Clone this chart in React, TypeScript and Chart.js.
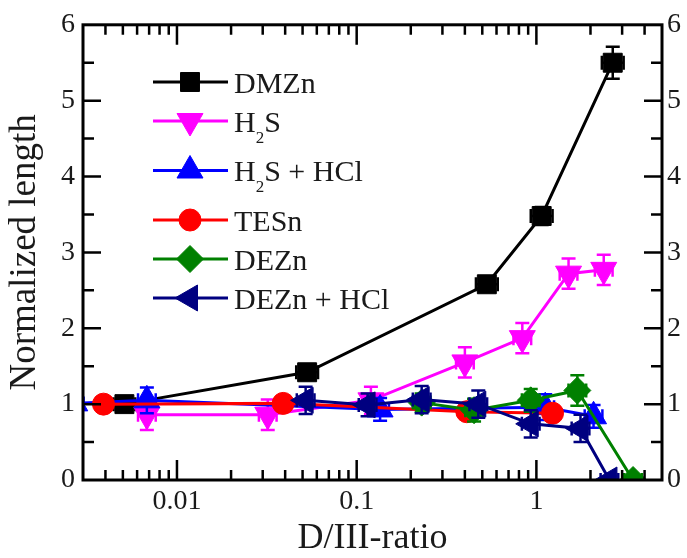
import React, { useEffect, useRef } from 'react';
import { Chart, registerables } from 'chart.js';
import * as helpers from 'chart.js/helpers';

Chart.register(...registerables);

// ---------- data ----------
const X_MIN = 0.003;
const X_MAX = 5;
const Y_MIN = 0;
const Y_MAX = 6;
const X_TICK_LABELS = [0.01, 0.1, 1];
const Y_TICK_LABELS = [0, 1, 2, 3, 4, 5, 6];

const LEGEND_LABELS = ['DMZn', 'H_{2}S', 'H_{2}S + HCl', 'TESn', 'DEZn', 'DEZn + HCl'];

const dmznX = [0.0051, 0.053, 0.53, 1.07, 2.66];
const dmznY = [1.0, 1.42, 2.58, 3.48, 5.5];
const dmznErrY = [0.1, 0.1, 0.1, 0.12, 0.21];
const dmznErrX = [0.15, 0.15, 0.15, 0.15, 0.15];

const h2sX = [0.0068, 0.032, 0.12, 0.4, 0.835, 1.51, 2.37];
const h2sY = [0.86, 0.86, 1.05, 1.55, 1.87, 2.72, 2.77];
const h2sErrY = [0.2, 0.2, 0.18, 0.2, 0.2, 0.2, 0.2];
const h2sErrX = [0.12, 0.12, 0.12, 0.12, 0.12, 0.12, 0.12];

const h2sHclX = [0.0027, 0.0068, 0.135, 1.12, 2.08];
const h2sHclY = [1.01, 1.05, 0.93, 0.96, 0.84];
const h2sHclErrY = [0.17, 0.17, 0.15, 0.17, 0.15];
const h2sHclErrX = [0.12, 0.12, 0.12, 0.12, 0.12];

const tesnX = [0.0039, 0.039, 0.41, 1.23];
const tesnY = [1.0, 1.01, 0.9, 0.88];
const tesnErrY = [0.05, 0.05, 0.06, 0.06];
const tesnErrX = [0.05, 0.05, 0.05, 0.05];

const deznX = [0.23, 0.45, 0.93, 1.69, 3.45];
const deznY = [1.02, 0.92, 1.05, 1.18, 0];
const deznErrY = [0.12, 0.15, 0.15, 0.2, 0.05];
const deznErrX = [0.12, 0.12, 0.12, 0.12, 0.12];

const deznHclX = [0.052, 0.115, 0.23, 0.475, 0.93, 1.76, 2.55];
const deznHclY = [1.05, 0.99, 1.06, 1.0, 0.74, 0.68, 0];
const deznHclErrY = [0.18, 0.15, 0.18, 0.18, 0.18, 0.18, 0.05];
const deznHclErrX = [0.12, 0.12, 0.12, 0.12, 0.12, 0.12, 0.12];

const COLORS = ['#000000', '#ff00ff', '#0000ff', '#ff0000', '#008000', '#000080'];
const POINT_STYLES = ['rect', 'triangle', 'triangle', 'circle', 'rectRot', 'triangle'];
const POINT_ROTATIONS = [0, 180, 0, 0, 0, -90];
const POINT_RADII = [13.4, 15, 15, 11, 13.5, 15];

const SERIES = [
  [dmznX, dmznY, dmznErrY, dmznErrX],
  [h2sX, h2sY, h2sErrY, h2sErrX],
  [h2sHclX, h2sHclY, h2sHclErrY, h2sHclErrX],
  [tesnX, tesnY, tesnErrY, tesnErrX],
  [deznX, deznY, deznErrY, deznErrX],
  [deznHclX, deznHclY, deznHclErrY, deznHclErrX],
];

const FONT = '"Liberation Serif", "Times New Roman", serif';
const TEXT = '#1a1a1a';

// small size offset used to refresh the canvas font cache once fonts are ready
let fontBump = 0;

// ---------- plugins ----------
const errorBarPlugin = {
  id: 'errorBars',
  beforeDatasetDraw(chart: any, args: any) {
    const ds = chart.data.datasets[args.index];
    const { ctx, chartArea: a } = chart;
    const xs = chart.scales.x;
    const ys = chart.scales.y;
    ctx.save();
    ctx.beginPath();
    ctx.rect(a.left, a.top, a.right - a.left, a.bottom - a.top);
    ctx.clip();
    ctx.strokeStyle = ds.borderColor;
    ctx.lineWidth = 2.5;
    const cap = 7;
    ds.data.forEach((p: any, j: number) => {
      const px = xs.getPixelForValue(p.x);
      const py = ys.getPixelForValue(p.y);
      const ey = ds.errY[j];
      const ex = ds.errX[j];
      ctx.beginPath();
      if (ey > 0) {
        const t = ys.getPixelForValue(p.y + ey);
        const b = ys.getPixelForValue(p.y - ey);
        ctx.moveTo(px, t); ctx.lineTo(px, b);
        ctx.moveTo(px - cap, t); ctx.lineTo(px + cap, t);
        ctx.moveTo(px - cap, b); ctx.lineTo(px + cap, b);
      }
      if (ex > 0) {
        const l = xs.getPixelForValue(p.x / (1 + ex));
        const r = xs.getPixelForValue(p.x * (1 + ex));
        ctx.moveTo(l, py); ctx.lineTo(r, py);
        ctx.moveTo(l, py - cap); ctx.lineTo(l, py + cap);
        ctx.moveTo(r, py - cap); ctx.lineTo(r, py + cap);
      }
      ctx.stroke();
    });
    ctx.restore();
  },
};

const framePlugin = {
  id: 'frameTicks',
  afterDatasetsDraw(chart: any) {
    const { ctx, chartArea: a } = chart;
    const xs = chart.scales.x;
    const ys = chart.scales.y;
    ctx.save();
    ctx.strokeStyle = '#000';
    ctx.lineWidth = 3;
    ctx.strokeRect(a.left, a.top, a.right - a.left, a.bottom - a.top);
    ctx.lineWidth = 2.5;
    ctx.beginPath();
    for (let k = 1; k < (Y_MAX - Y_MIN) * 2; k++) {
      const v = Y_MIN + k * 0.5;
      const len = k % 2 === 0 ? 18 : 11;
      const py = ys.getPixelForValue(v);
      ctx.moveTo(a.left, py); ctx.lineTo(a.left + len, py);
      ctx.moveTo(a.right, py); ctx.lineTo(a.right - len, py);
    }
    for (let d = -3; d <= 0; d++) {
      for (let m = 1; m <= 9; m++) {
        const v = m * Math.pow(10, d);
        if (v <= X_MIN * 1.001 || v >= X_MAX * 0.999) continue;
        const len = m === 1 ? 20 : 10;
        const px = xs.getPixelForValue(v);
        ctx.moveTo(px, a.bottom); ctx.lineTo(px, a.bottom - len);
        ctx.moveTo(px, a.top); ctx.lineTo(px, a.top + len);
      }
    }
    ctx.stroke();
    ctx.restore();
  },
};

function parseLabel(s: string) {
  const parts: { t: string; sub: boolean }[] = [];
  const re = /_\{(.*?)\}/g;
  let last = 0;
  let m: RegExpExecArray | null;
  while ((m = re.exec(s))) {
    if (m.index > last) parts.push({ t: s.slice(last, m.index), sub: false });
    parts.push({ t: m[1], sub: true });
    last = m.index + m[0].length;
  }
  if (last < s.length) parts.push({ t: s.slice(last), sub: false });
  return parts;
}

const legendPlugin = {
  id: 'customLegend',
  afterDraw(chart: any) {
    const { ctx } = chart;
    const x0 = 153, x1 = 228, xm = 190, xt = 234;
    let y = 82;
    chart.data.datasets.forEach((ds: any, i: number) => {
      const parts = parseLabel(LEGEND_LABELS[i]);
      ctx.save();
      ctx.strokeStyle = ds.borderColor;
      ctx.lineWidth = 3;
      ctx.beginPath();
      ctx.moveTo(x0, y); ctx.lineTo(x1, y);
      ctx.stroke();
      ctx.fillStyle = ds.pointBackgroundColor;
      ctx.strokeStyle = ds.pointBorderColor;
      ctx.lineWidth = 1;
      helpers.drawPoint(ctx, {
        pointStyle: ds.pointStyle,
        rotation: ds.pointRotation,
        radius: ds.pointRadius,
        borderWidth: 1,
      } as any, xm, y);
      ctx.fillStyle = TEXT;
      ctx.textBaseline = 'alphabetic';
      ctx.textAlign = 'left';
      let tx = xt;
      const base = y + 10.5;
      let hasSub = false;
      parts.forEach((p) => {
        if (p.sub) {
          hasSub = true;
          ctx.font = `${17 + fontBump}px ${FONT}`;
          ctx.fillText(p.t, tx, base + 11);
        } else {
          ctx.font = `${30 + fontBump}px ${FONT}`;
          ctx.fillText(p.t, tx, base);
        }
        tx += ctx.measureText(p.t).width;
      });
      ctx.restore();
      y += 39 + (hasSub ? 10.5 : 0);
    });
  },
};

function makeScales(bump: number) {
  const tickFont = { family: FONT, size: 28 + bump, lineHeight: 1.2 };
  return {
    x: {
      type: 'logarithmic',
      position: 'bottom',
      min: X_MIN,
      max: X_MAX,
      bounds: 'data',
      grid: { display: false, drawTicks: false },
      border: { display: false },
      afterBuildTicks: (s: any) => {
        s.ticks = X_TICK_LABELS.map((v) => ({ value: v }));
      },
      afterFit: (s: any) => { s.height = 78; },
      ticks: {
        autoSkip: false,
        maxRotation: 0,
        padding: 5,
        color: TEXT,
        font: tickFont,
        callback: (v: any) => String(v),
      },
      title: {
        display: true,
        text: 'D/III-ratio',
        color: TEXT,
        font: { family: FONT, size: 36 + bump, lineHeight: 1 },
        padding: { top: 0, bottom: 1 },
      },
    },
    y: {
      type: 'linear',
      position: 'left',
      min: Y_MIN,
      max: Y_MAX,
      grid: { display: false, drawTicks: false },
      border: { display: false },
      afterBuildTicks: (s: any) => {
        s.ticks = Y_TICK_LABELS.map((v) => ({ value: v }));
      },
      afterFit: (s: any) => { s.width = 83; },
      ticks: { padding: 8, color: TEXT, font: tickFont },
      title: {
        display: true,
        text: 'Normalized length',
        color: TEXT,
        font: { family: FONT, size: 37 + bump, lineHeight: 1 },
        padding: { top: 7, bottom: 0 },
      },
    },
    y2: {
      type: 'linear',
      position: 'right',
      min: Y_MIN,
      max: Y_MAX,
      grid: { display: false, drawTicks: false },
      border: { display: false },
      afterBuildTicks: (s: any) => {
        s.ticks = Y_TICK_LABELS.map((v) => ({ value: v }));
      },
      afterFit: (s: any) => { s.width = 25; },
      ticks: { padding: 5, color: TEXT, font: tickFont },
    },
  };
}

export default function App() {
  const ref = useRef<HTMLCanvasElement | null>(null);
  const probeRef = useRef<HTMLDivElement | null>(null);
  useEffect(() => {
    if (!ref.current) return;
    // force style and layout so the serif face is resolved before drawing
    if (probeRef.current) {
      probeRef.current.getBoundingClientRect();
      void probeRef.current.offsetWidth;
    }
    fontBump = 0;
    const datasets = SERIES.map(([xs, ys, ey, ex], i) => ({
      label: LEGEND_LABELS[i],
      data: xs.map((x, j) => ({ x, y: ys[j] })),
      errY: ey,
      errX: ex,
      borderColor: COLORS[i],
      backgroundColor: COLORS[i],
      pointBackgroundColor: COLORS[i],
      pointBorderColor: COLORS[i],
      pointStyle: POINT_STYLES[i],
      pointRotation: POINT_ROTATIONS[i],
      pointRadius: POINT_RADII[i],
      pointBorderWidth: 1,
      borderWidth: 3,
      tension: 0,
      fill: false,
      clip: 0,
      order: SERIES.length - i,
    }));
    const chart = new Chart(ref.current, {
      type: 'line',
      data: { datasets: datasets as any },
      options: {
        animation: false,
        responsive: false,
        devicePixelRatio: 1,
        layout: { padding: { top: 23, left: 0, right: 0, bottom: 0 } },
        plugins: { legend: { display: false }, tooltip: { enabled: false } },
        scales: makeScales(0),
      } as any,
      plugins: [errorBarPlugin, framePlugin, legendPlugin],
    });
    let alive = true;
    let n = 0;
    const refresh = () => {
      if (!alive) return;
      n += 1;
      fontBump = n * 0.001;
      (chart.options as any).scales = makeScales(fontBump);
      chart.update();
    };
    const fonts: any = (document as any).fonts;
    if (fonts && fonts.load) {
      Promise.all([
        fonts.load(`28px ${FONT}`, 'DMZn0.1'),
        fonts.ready,
      ]).then(refresh, refresh);
    }
    const t1 = setTimeout(refresh, 20);
    const t2 = setTimeout(refresh, 100);
    const t3 = setTimeout(refresh, 300);
    return () => {
      alive = false;
      clearTimeout(t1);
      clearTimeout(t2);
      clearTimeout(t3);
      chart.destroy();
    };
  }, []);
  return (
    <div style={{ position: 'absolute', left: 0, top: 0, width: 687, height: 558 }}>
      <div
        ref={probeRef}
        aria-hidden="true"
        style={{ position: 'absolute', left: 300, top: 300, fontFamily: FONT, fontSize: 20, opacity: 0, zIndex: -1 }}
      >
        0
      </div>
      <canvas ref={ref} width={687} height={558} style={{ display: 'block', position: 'relative' }} />
    </div>
  );
}
